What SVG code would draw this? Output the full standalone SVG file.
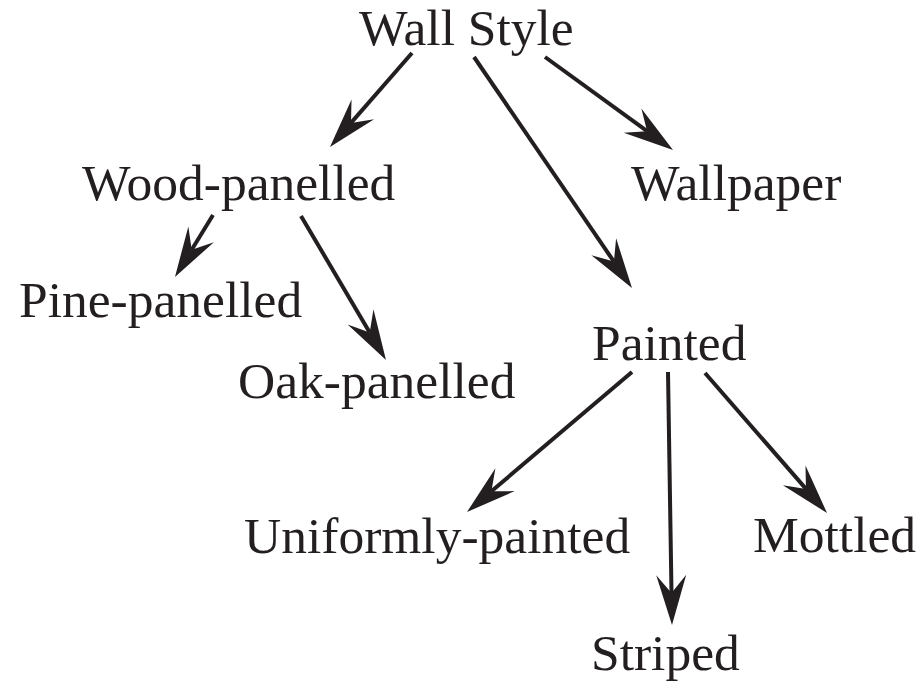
<svg xmlns="http://www.w3.org/2000/svg" width="924" height="683" viewBox="0 0 924 683">
<style>
text{font-family:"Liberation Serif","Times New Roman",serif;font-size:51.5px;fill:#231f20}
.c line{stroke:#231f20;stroke-width:4;fill:none;marker-end:url(#ah)}
</style>
<defs>
<marker id="ah" markerUnits="userSpaceOnUse" orient="auto" refX="18" refY="0" markerWidth="60" markerHeight="40" overflow="visible">
<path d="M50,0 L0,-15 L18,0 L0,15 Z" fill="#231f20"/>
</marker>
</defs>
<rect width="924" height="683" fill="#fff"/>
<g class="c" id="connectors">
<line x1="412" y1="53" x2="351" y2="122.9"/>
<line x1="474" y1="57" x2="613.9" y2="261.6"/>
<line x1="545" y1="57" x2="647.1" y2="131.2"/>
<line x1="213" y1="215" x2="191.7" y2="249.7"/>
<line x1="301" y1="216" x2="369.7" y2="332.4"/>
<line x1="632" y1="372" x2="491.4" y2="491.3"/>
<line x1="668" y1="372" x2="671.5" y2="593"/>
<line x1="705" y1="373" x2="806" y2="488.9"/>
</g>
<g id="wall-style"><text x="359" y="45">Wall Style</text></g>
<g id="wood-panelled"><text x="82" y="200">Wood-panelled</text></g>
<g id="wallpaper"><text x="631" y="200">Wallpaper</text></g>
<g id="pine-panelled"><text x="19" y="317">Pine-panelled</text></g>
<g id="oak-panelled"><text x="238" y="398">Oak-panelled</text></g>
<g id="painted"><text x="592" y="360">Painted</text></g>
<g id="uniformly-painted"><text x="244" y="553">Uniformly-painted</text></g>
<g id="mottled"><text x="753" y="552">Mottled</text></g>
<g id="striped"><text x="591" y="670">Striped</text></g>
</svg>
